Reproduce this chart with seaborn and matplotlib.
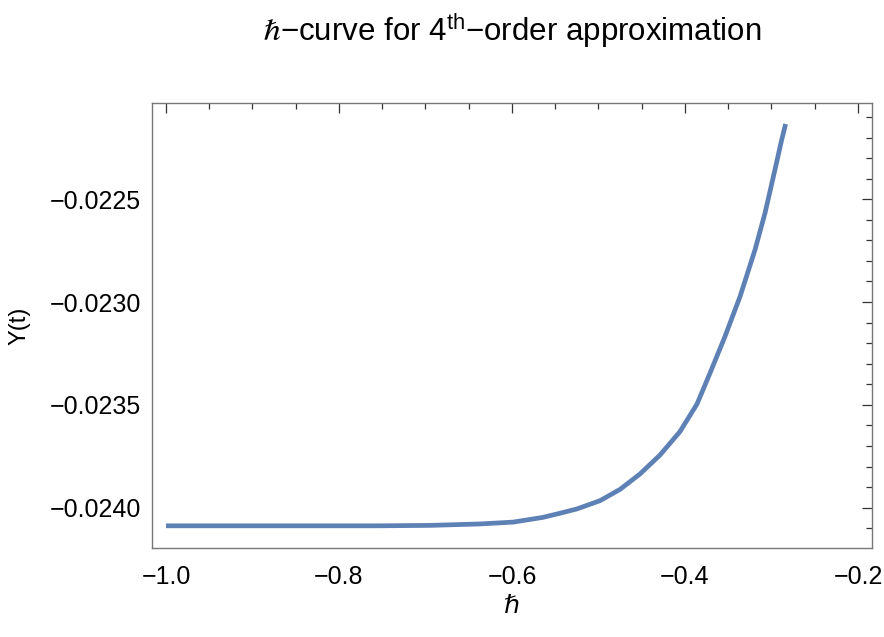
import numpy as np
import pandas as pd
import seaborn as sns
import matplotlib.pyplot as plt
from matplotlib.ticker import MultipleLocator, FuncFormatter

# values
hbar = [-1.0, -0.8451, -0.7526, -0.6948, -0.6370, -0.5985, -0.5642, -0.5445,
        -0.5249, -0.4983, -0.4751, -0.4520, -0.4289, -0.4058, -0.3861,
        -0.3711, -0.3538, -0.3364, -0.3191, -0.3075, -0.2960, -0.2882,
        -0.2836]
y_t = [-0.024088, -0.024088, -0.024088, -0.024086, -0.024079, -0.024070,
       -0.024047, -0.024027, -0.024006, -0.023966, -0.023911, -0.023836,
       -0.023744, -0.023630, -0.023496, -0.023346, -0.023168, -0.022974,
       -0.022747, -0.022568, -0.022357, -0.022211, -0.022134]

df = pd.DataFrame({"hbar": hbar, "Y": y_t})

sns.set_style("white")
plt.rcParams["font.family"] = ["Liberation Sans", "DejaVu Sans"]
plt.rcParams["mathtext.fontset"] = "custom"
plt.rcParams["mathtext.rm"] = "Liberation Sans"
plt.rcParams["mathtext.it"] = "Liberation Sans:italic"
plt.rcParams["text.color"] = "black"
plt.rcParams["axes.labelcolor"] = "black"
plt.rcParams["xtick.labelcolor"] = "black"
plt.rcParams["ytick.labelcolor"] = "black"

fig = plt.figure(figsize=(8.84, 6.37), dpi=100)
ax = fig.add_axes([0.1719, 0.1397, 0.8145, 0.6986])

sns.lineplot(data=df, x="hbar", y="Y", ax=ax, color="#5E81B5", linewidth=3.4,
             solid_capstyle="butt", solid_joinstyle="round")

ax.set_xlim(-1.0162, -0.1838)
ax.set_ylim(-0.024196, -0.022032)

ax.xaxis.set_major_locator(MultipleLocator(0.2))
ax.xaxis.set_minor_locator(MultipleLocator(0.05))
ax.yaxis.set_major_locator(MultipleLocator(0.0005))
ax.yaxis.set_minor_locator(MultipleLocator(0.0001))
ax.xaxis.set_major_formatter(FuncFormatter(lambda v, p: f"{v:.1f}".replace("-", "\u2212")))
ax.yaxis.set_major_formatter(FuncFormatter(lambda v, p: f"{v:.4f}".replace("-", "\u2212")))

ax.tick_params(which="both", direction="in", top=True, right=True, color="#333333", width=0.9)
ax.tick_params(which="major", length=7, labelsize=18, pad=12)
ax.tick_params(which="minor", length=4)
ax.tick_params(axis="y", which="major", pad=8)

for s in ax.spines.values():
    s.set_color("#777777")
    s.set_linewidth(1.0)

ax.set_xlabel("ℏ", fontsize=18, style="italic", labelpad=4)
ax.set_ylabel("Y(t)", fontsize=17, labelpad=14)
fig.text(0.579, 1 - 41 / 637, r"$\mathit{ℏ}$−curve for 4$^{\mathrm{th}}$−order approximation",
         fontsize=22.5, ha="center", va="baseline")

fig.savefig("out.png", dpi=100)
